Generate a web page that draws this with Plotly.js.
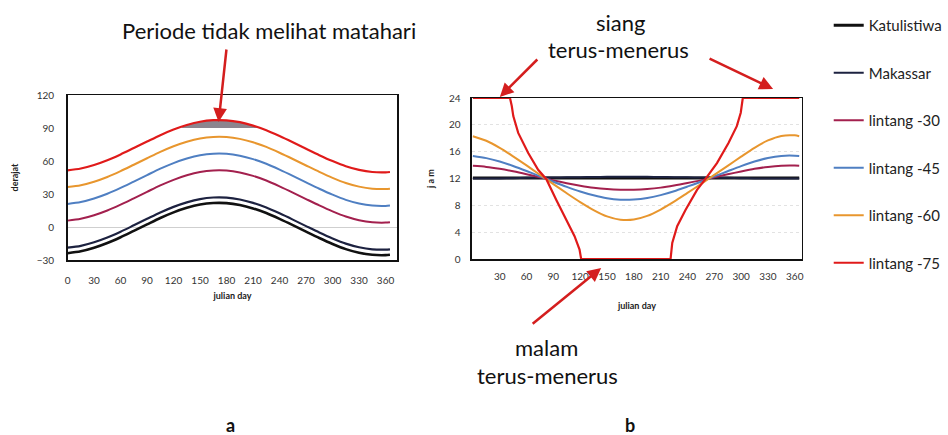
<!DOCTYPE html>
<html>
<head>
<meta charset="utf-8">
<script src="https://cdn.plot.ly/plotly-3.0.1.min.js"></script>
<style>
  html, body { margin: 0; padding: 0; background: #ffffff; }
  #chart { width: 948px; height: 435px; }
</style>
</head>
<body>
<div id="chart"></div>
<script>
// ---------- data ----------
const seriesNames = ["Katulistiwa", "Makassar", "lintang -30", "lintang -45", "lintang -60", "lintang -75"];

// (a) noon sun height (derajat) vs julian day
const daysA = [0, 15, 30, 45, 60, 75, 90, 105, 120, 135, 150, 165, 180, 195, 210, 225, 240, 255, 270, 285, 300, 315, 330, 345, 360, 365];
const katulistiwaA = [-23.8, -22.1, -18.9, -14.6, -9.3, -3.5, 2.4, 8.2, 13.3, 17.4, 20.4, 21.8, 21.7, 20.0, 16.9, 12.7, 7.4, 1.7, -4.2, -10.0, -15.4, -20.1, -23.4, -25.3, -25.6, -25.3];
const makassarA = [-18.8, -17.1, -13.9, -9.6, -4.3, 1.5, 7.4, 13.2, 18.3, 22.4, 25.4, 26.8, 26.7, 25.0, 21.9, 17.7, 12.4, 6.7, 0.8, -5.0, -10.4, -15.1, -18.4, -20.3, -20.6, -20.3];
const lintang30A = [5.8, 7.5, 10.7, 15.0, 20.3, 26.1, 32.0, 37.8, 42.9, 47.0, 50.0, 51.4, 51.3, 49.6, 46.5, 42.3, 37.0, 31.3, 25.4, 19.6, 14.2, 9.5, 6.2, 4.3, 4.0, 4.3];
const lintang45A = [21.0, 22.7, 25.9, 30.2, 35.5, 41.3, 47.2, 53.0, 58.1, 62.2, 65.2, 66.6, 66.5, 64.8, 61.7, 57.5, 52.2, 46.5, 40.6, 34.8, 29.4, 24.7, 21.4, 19.5, 19.2, 19.5];
const lintang60A = [36.3, 38.0, 41.2, 45.5, 50.8, 56.6, 62.5, 68.3, 73.4, 77.5, 80.5, 81.9, 81.8, 80.1, 77.0, 72.8, 67.5, 61.8, 55.9, 50.1, 44.7, 40.0, 36.7, 34.8, 34.5, 34.8];
const lintang75A = [51.5, 53.2, 56.4, 60.7, 66.0, 71.8, 77.7, 83.5, 88.6, 92.7, 95.7, 97.1, 97.0, 95.3, 92.2, 88.0, 82.7, 77.0, 71.1, 65.3, 59.9, 55.2, 51.9, 50.0, 49.7, 50.0];

// shaded "Periode tidak melihat matahari" (above 90 deg)
const shadeDays = [128, 135, 150, 165, 180, 195, 210, 216];
const shadeTop = [90, 92.7, 95.7, 97.1, 97.0, 95.3, 92.2, 90];
const shadeBase = 90;

// (b) day length (jam) vs julian day
const daysB = [0, 15, 30, 45, 60, 75, 90, 105, 120, 135, 150, 165, 180, 195, 210, 225, 240, 255, 270, 285, 300, 315, 330, 345, 360, 365];
const katulistiwaB = [12.07, 12.07, 12.07, 12.07, 12.07, 12.07, 12.07, 12.07, 12.07, 12.07, 12.07, 12.07, 12.07, 12.07, 12.07, 12.07, 12.07, 12.07, 12.07, 12.07, 12.07, 12.07, 12.07, 12.07, 12.07, 12.07];
const makassarB = [12.0, 12.0, 12.0, 12.05, 12.1, 12.12, 12.15, 12.18, 12.2, 12.22, 12.25, 12.25, 12.25, 12.25, 12.22, 12.2, 12.18, 12.15, 12.12, 12.1, 12.05, 12.0, 12.0, 12.0, 12.0, 12.0];
const lintang30B = [13.89, 13.73, 13.44, 13.07, 12.64, 12.18, 11.72, 11.3, 10.93, 10.62, 10.42, 10.33, 10.34, 10.44, 10.64, 10.95, 11.32, 11.72, 12.18, 12.62, 13.05, 13.44, 13.73, 13.9, 13.92, 13.89];
const lintang45B = [15.35, 15.04, 14.53, 13.87, 13.12, 12.32, 11.52, 10.76, 10.07, 9.49, 9.05, 8.84, 8.86, 9.08, 9.52, 10.1, 10.8, 11.52, 12.31, 13.08, 13.84, 14.53, 15.06, 15.37, 15.4, 15.35];
const lintang60B = [18.31, 17.63, 16.57, 15.3, 13.95, 12.56, 11.17, 9.8, 8.48, 7.3, 6.35, 5.86, 5.88, 6.42, 7.37, 8.54, 9.85, 11.17, 12.53, 13.88, 15.25, 16.57, 17.67, 18.35, 18.43, 18.31];
const daysB75 = [0, 20, 41.5, 43.5, 45.2, 50.7, 61.9, 73, 82.2, 93.3, 104.4, 113.7, 119.3, 121.1, 150, 180, 221.1, 223, 228.5, 237.8, 250.7, 260, 273, 285.9, 295.2, 299.6, 301.9, 330, 365];
const lintang75B = [24, 24, 24, 22.8, 21.3, 18.8, 15.8, 13.3, 11.9, 8.8, 5.9, 3.4, 1.4, 0, 0, 0, 0, 2.4, 4.9, 7.3, 10.3, 11.9, 14.3, 17.3, 19.8, 21.8, 24, 24, 24];

// axis ticks
const xTicksA = [0, 30, 60, 90, 120, 150, 180, 210, 240, 270, 300, 330, 360];
const yTicksA = [-30, 0, 30, 60, 90, 120];
const xTicksB = [30, 60, 90, 120, 150, 180, 210, 240, 270, 300, 330, 360];
const yTicksB = [0, 4, 8, 12, 16, 20, 24];

// ---------- styling ----------
const colors = ["#111111", "#1d2240", "#a3204e", "#4f7fc2", "#e8962e", "#e01a1a"];
const widthsA = [2.6, 2.2, 2, 2, 2, 2.2];
const widthsB = [3, 2, 2, 2, 2, 2.2];
const FONT = "Lato, 'Open Sans', 'DejaVu Sans', sans-serif";

const seriesA = [katulistiwaA, makassarA, lintang30A, lintang45A, lintang60A, lintang75A];
const seriesB = [katulistiwaB, makassarB, lintang30B, lintang45B, lintang60B, lintang75B];

const traces = [];

// shading polygon (drawn first)
traces.push({
  x: shadeDays.concat(shadeDays.slice().reverse()),
  y: shadeTop.concat(shadeDays.map(() => shadeBase)),
  xaxis: "x", yaxis: "y",
  type: "scatter", mode: "lines",
  fill: "toself", fillcolor: "rgba(128,120,130,0.9)",
  line: { width: 0, color: "rgba(0,0,0,0)" },
  showlegend: false, hoverinfo: "skip"
});

seriesA.forEach((ys, i) => {
  traces.push({
    x: daysA, y: ys, xaxis: "x", yaxis: "y",
    type: "scatter", mode: "lines",
    name: seriesNames[i], legendgroup: "g" + i, showlegend: false,
    line: { color: colors[i], width: widthsA[i], shape: "spline", smoothing: 0.8 }
  });
});

seriesB.forEach((ys, i) => {
  const isPolar = i === 5;
  traces.push({
    x: isPolar ? daysB75 : daysB, y: ys, xaxis: "x2", yaxis: "y2",
    type: "scatter", mode: "lines",
    name: seriesNames[i], legendgroup: "g" + i, showlegend: true,
    cliponaxis: false,
    line: { color: colors[i], width: widthsB[i], shape: isPolar ? "linear" : "spline", smoothing: 0.8 }
  });
});

const W = 948, H = 435;
const px = v => v / W;
const py = v => 1 - v / H;

const tickFont = { family: FONT, size: 10, color: "#333333" };
const axTitleFont = { family: FONT, size: 9, color: "#222222", weight: "bold" };
const noteFont = { family: FONT, size: 22, color: "#111111" };

function note(text, x, y, font) {
  return { text: text, xref: "paper", yref: "paper", x: px(x), y: py(y),
    xanchor: "center", yanchor: "middle", showarrow: false, font: font || noteFont };
}
function arrow(hx, hy, ax, ay) {
  return { text: "", xref: "paper", yref: "paper", x: px(hx), y: py(hy), ax: ax, ay: ay,
    showarrow: true, arrowhead: 2, arrowsize: 1.1, arrowwidth: 2.5, arrowcolor: "#d41e1e" };
}

const layout = {
  width: W, height: H,
  margin: { l: 0, r: 0, t: 0, b: 0 },
  paper_bgcolor: "#ffffff", plot_bgcolor: "#ffffff",
  font: { family: FONT, color: "#111111" },
  showlegend: true,
  legend: {
    x: px(834), y: py(9), xanchor: "left", yanchor: "top",
    traceorder: "grouped", tracegroupgap: 25,
    itemwidth: 30,
    font: { family: FONT, size: 15, color: "#222222" },
    bgcolor: "rgba(0,0,0,0)"
  },
  xaxis: {
    domain: [px(68), px(400)], range: [0, 373.5],
    tickvals: xTicksA, ticks: "", tickfont: tickFont, ticklabelstandoff: 10,
    showgrid: false, zeroline: false,
    showline: true, mirror: true, linecolor: "#111111", linewidth: 1.5,
    title: { text: "julian day", font: axTitleFont, standoff: 8 },
    anchor: "y", automargin: false, fixedrange: true
  },
  yaxis: {
    domain: [py(260), py(95)], range: [-30, 120],
    tickvals: yTicksA, ticks: "", tickfont: tickFont, ticklabelstandoff: 10,
    showgrid: false,
    zeroline: true, zerolinecolor: "#cfcfcf", zerolinewidth: 1,
    showline: true, mirror: true, linecolor: "#111111", linewidth: 1.5,
    title: { text: "derajat", font: axTitleFont, standoff: 16 },
    anchor: "x", automargin: false, fixedrange: true
  },
  xaxis2: {
    domain: [px(475), px(807)], range: [-1, 368],
    tickvals: xTicksB, ticks: "", tickfont: tickFont, ticklabelstandoff: 7,
    showgrid: false, zeroline: false,
    showline: true, mirror: true, linecolor: "#111111", linewidth: 1.5,
    title: { text: "julian day", font: axTitleFont, standoff: 22 },
    anchor: "y2", automargin: false, fixedrange: true
  },
  yaxis2: {
    domain: [py(259), py(98)], range: [0, 24],
    tickvals: yTicksB, ticks: "", tickfont: tickFont, ticklabelstandoff: 8,
    showgrid: true, gridcolor: "#e2e2e2", griddash: "dot", gridwidth: 1,
    zeroline: false,
    showline: true, mirror: true, linecolor: "#111111", linewidth: 1.5,
    title: { text: "j a m", font: axTitleFont, standoff: 12 },
    anchor: "x2", automargin: false, fixedrange: true
  },
  annotations: [
    note("Periode tidak melihat matahari", 271, 30),
    note("siang", 624, 22),
    note("terus-menerus", 622, 50),
    note("malam", 550, 347),
    note("terus-menerus", 551, 375),
    note("a", 232, 425, { family: FONT, size: 18, color: "#111111", weight: "bold" }),
    note("b", 634, 425, { family: FONT, size: 18, color: "#111111", weight: "bold" }),
    arrow(220, 122, 8, -74),
    arrow(503, 97, 39, -39),
    arrow(778, 89, -65, -31),
    arrow(605, 268, -70, 57)
  ]
};

Plotly.newPlot("chart", traces, layout, { staticPlot: true, displayModeBar: false });
</script>
</body>
</html>
